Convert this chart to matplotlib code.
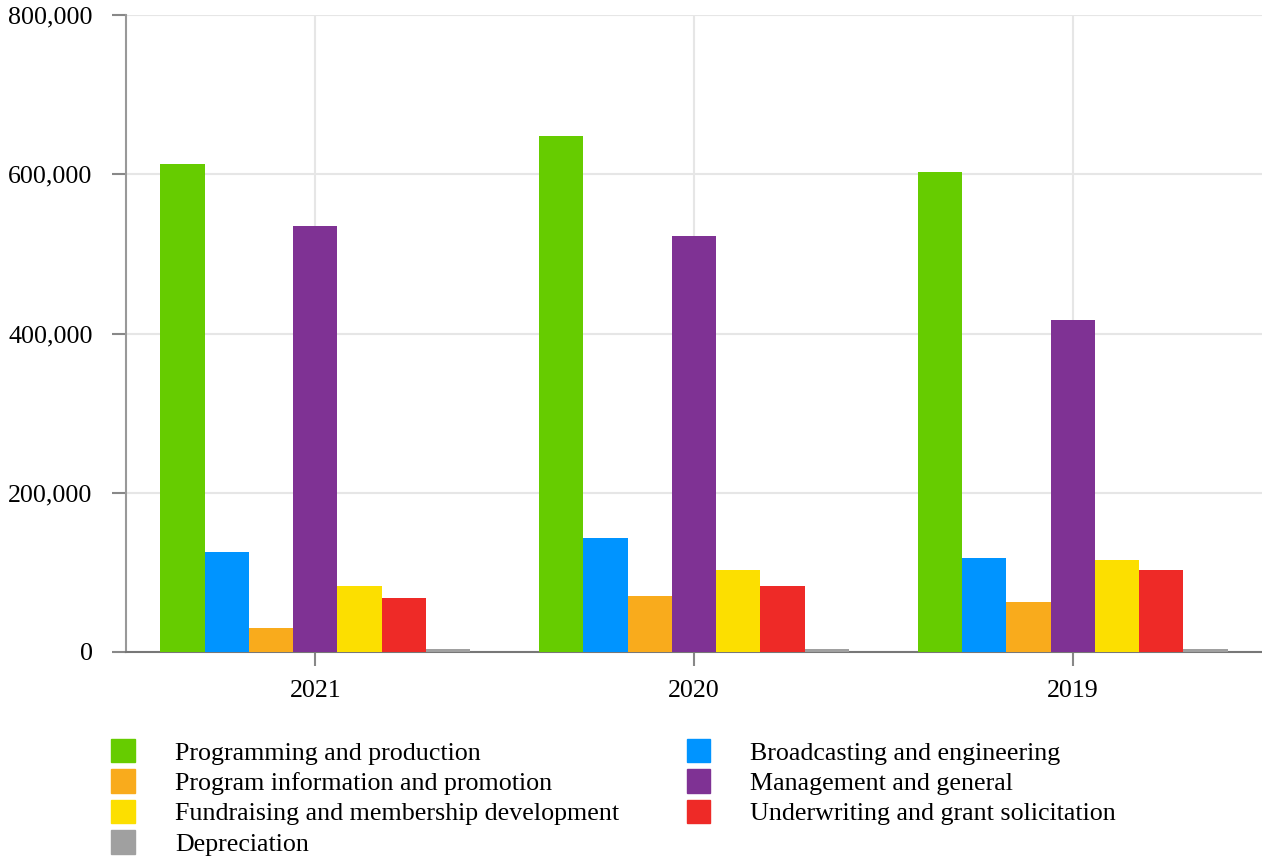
import matplotlib.pyplot as plt
import numpy as np
from matplotlib.patches import Patch
from matplotlib.ticker import FuncFormatter

plt.rcParams['font.family'] = ['Liberation Serif', 'DejaVu Serif']

# data
years = ['2021', '2020', '2019']
series = [
    'Programming and production',
    'Broadcasting and engineering',
    'Program information and promotion',
    'Management and general',
    'Fundraising and membership development',
    'Underwriting and grant solicitation',
    'Depreciation',
]
programming = [613000, 648000, 603000]
broadcasting = [126000, 143000, 118000]
promotion = [30000, 70000, 63000]
management = [535000, 522000, 417000]
fundraising = [83000, 103000, 116000]
underwriting = [68000, 83000, 103000]
depreciation = [4000, 4000, 4000]
values = [programming, broadcasting, promotion, management,
          fundraising, underwriting, depreciation]
colors = ['#66cc00', '#0094ff', '#f9ab1c', '#7f3294', '#fcdf00', '#ee2a27', '#a0a0a0']

fs = 18.7

fig = plt.figure(figsize=(12.62, 8.57), dpi=100)
ax = fig.add_axes([126 / 1262, 1 - 652 / 857, 1 - 126 / 1262, (652 - 15) / 857])

x = np.arange(len(years))
w = 0.117
for i, (vals, c) in enumerate(zip(values, colors)):
    ax.bar(x + (i - 3) * w, vals, w, color=c, zorder=3, label=series[i])

ax.set_xlim(-0.5, 2.5)
ax.set_ylim(0, 800000)
ax.set_yticks([0, 200000, 400000, 600000, 800000])
ax.yaxis.set_major_formatter(FuncFormatter(lambda v, p: f'{int(v):,}'))
ax.set_xticks(x)
ax.set_xticklabels(years)
ax.grid(True, color='#e6e6e6', linewidth=1.5, zorder=0)

for s in ['top', 'right']:
    ax.spines[s].set_visible(False)
ax.spines['left'].set_color('#999999')
ax.spines['left'].set_linewidth(1.5)
ax.spines['bottom'].set_color('#777777')
ax.spines['bottom'].set_linewidth(1.5)
ax.tick_params(axis='both', colors='#888888', labelcolor='black', labelsize=fs,
               length=10, width=1.5)
ax.tick_params(axis='y', pad=14)
ax.tick_params(axis='x', pad=10)

# legend, filled column-wise
order = [0, 2, 4, 6, 1, 3, 5]
handles = [Patch(color=colors[i]) for i in order]
labels = [series[i] for i in order]
fig.legend(handles, labels, ncol=2, loc='upper left',
           bbox_to_anchor=(111 / 1262, 1 - 739 / 857), frameon=False,
           fontsize=fs, handlelength=0.92, handleheight=1.0,
           handletextpad=1.54, labelspacing=0.19, columnspacing=2.6,
           borderpad=0, borderaxespad=0)

fig.savefig('out.png', dpi=100)
